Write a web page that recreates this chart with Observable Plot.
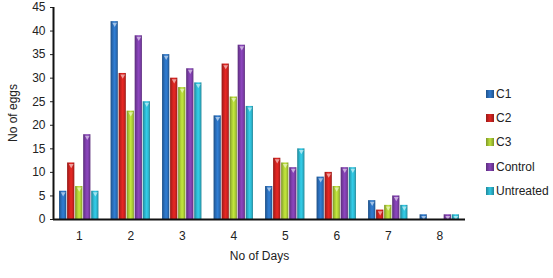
<!DOCTYPE html>
<html>
<head>
<meta charset="utf-8">
<script src="https://cdn.jsdelivr.net/npm/d3@7"></script>
<script src="https://cdn.jsdelivr.net/npm/@observablehq/plot@0.6"></script>
<style>
  html, body { margin: 0; padding: 0; background: #fff; }
  #wrap { position: relative; width: 553px; height: 278px; font-family: "Liberation Sans", Arial, sans-serif; }
  #legend { position: absolute; left: 486px; top: 82px; font-size: 12px; color: #222; }
  #legend .row { display: flex; align-items: center; height: 24.2px; }
  #legend .sw { width: 8px; height: 8px; margin-right: 2px; }
  #ylabel { position: absolute; left: 13px; top: 113px; font-size: 12px; color: #222; transform: translate(-50%, -50%) rotate(-90deg); white-space: nowrap; }
</style>
</head>
<body>
<div id="wrap"></div>
<script>
const days = [1, 2, 3, 4, 5, 6, 7, 8];
const series = ["C1", "C2", "C3", "Control", "Untreated"];
const colors = ["#2a6db8", "#c9221f", "#a9c935", "#7a3da6", "#2cb3cb"];
const C1 = [6, 42, 35, 22, 7, 9, 4, 1];
const C2 = [12, 31, 30, 33, 13, 10, 2, 0];
const C3 = [7, 23, 28, 26, 12, 7, 3, 0];
const Control = [18, 39, 32, 37, 11, 11, 5, 1];
const Untreated = [6, 25, 29, 24, 15, 11, 3, 1];
const yTicks = [0, 5, 10, 15, 20, 25, 30, 35, 40, 45];

const values = { C1, C2, C3, Control, Untreated };
const barW = 0.156;               // width of one bar in day units
const groupW = barW * series.length;
const data = [];
days.forEach((d, i) => series.forEach((s, j) => {
  const x1 = d - groupW / 2 + j * barW;
  data.push({ day: d, series: s, value: values[s][i], x1, x2: x1 + barW, xc: x1 + barW / 2 });
}));
const bars = data.filter(d => d.value > 0);
const gradIds = series.map((s, i) => `grad${i}`);

const plot = Plot.plot({
  width: 553,
  height: 278,
  marginLeft: 53,
  marginRight: 88,
  marginTop: 7,
  marginBottom: 59,
  style: { fontFamily: "Liberation Sans, Arial, sans-serif", fontSize: "12px", color: "#222" },
  x: { domain: [0.5, 8.5], axis: null },
  y: { domain: [0, 45], axis: null },
  color: { domain: series, range: gradIds.map(id => `url(#${id})`) },
  marks: [
    Plot.rectY(bars, { x1: "x1", x2: "x2", y: "value", fill: "series", insetLeft: 0.4, insetRight: 0.4 }),
    Plot.dot(bars, { x: "xc", y: "value", symbol: "triangle", r: 1.8, rotate: 180, fill: "white", fillOpacity: 0.55, dy: 2.5 }),
    Plot.axisY({ ticks: yTicks, tickSize: 3, tickPadding: 5, fontSize: 12, label: null }),
    Plot.ruleX([0.5], { stroke: "#111", strokeWidth: 2 }),
    Plot.ruleY([0], { stroke: "#111", strokeWidth: 2 }),
    Plot.axisX({ ticks: days, tickSize: 0, tickPadding: 12, fontSize: 12, tickFormat: d => String(d), label: "No of Days", labelAnchor: "center", labelOffset: 40, labelArrow: "none" })
  ]
});

// gradients for cylindrical bar look
const svg = d3.select(plot);
const defs = svg.append("defs");
colors.forEach((c, i) => {
  const base = d3.color(c);
  const g = defs.append("linearGradient").attr("id", gradIds[i]).attr("x1", 0).attr("x2", 1).attr("y1", 0).attr("y2", 0);
  g.append("stop").attr("offset", "0%").attr("stop-color", base.darker(0.9));
  g.append("stop").attr("offset", "30%").attr("stop-color", base);
  g.append("stop").attr("offset", "55%").attr("stop-color", base.brighter(0.4));
  g.append("stop").attr("offset", "80%").attr("stop-color", base);
  g.append("stop").attr("offset", "100%").attr("stop-color", base.darker(0.9));
});

document.getElementById("wrap").appendChild(plot);

d3.select("#wrap").append("div").attr("id", "ylabel").text("No of eggs");

const legend = d3.select("#wrap").append("div").attr("id", "legend");
series.forEach((s, i) => {
  const row = legend.append("div").attr("class", "row");
  row.append("div").attr("class", "sw").style("background", `linear-gradient(to right, ${d3.color(colors[i]).darker(0.8)}, ${d3.color(colors[i]).brighter(0.3)} 50%, ${d3.color(colors[i]).darker(0.8)})`);
  row.append("span").text(s);
});
</script>
</body>
</html>
